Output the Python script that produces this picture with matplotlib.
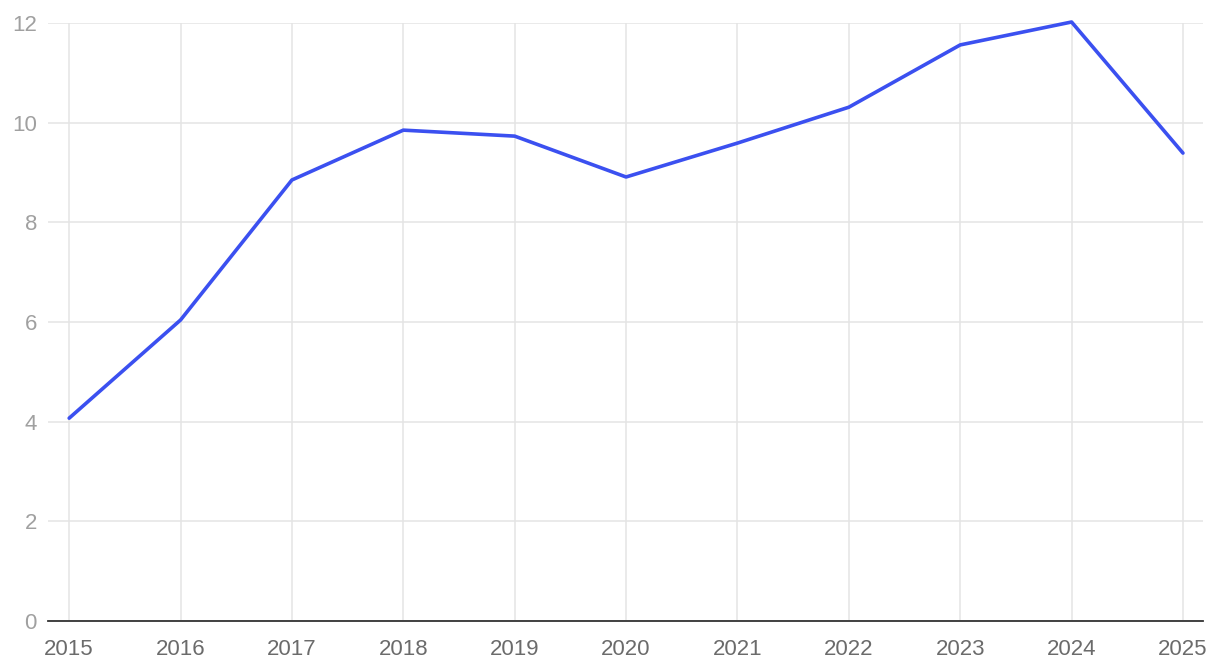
import matplotlib
matplotlib.use("Agg")
import matplotlib.pyplot as plt

plt.rcParams['font.family'] = ['Liberation Sans', 'DejaVu Sans']

anos = [2015, 2016, 2017, 2018, 2019, 2020, 2021, 2022, 2023, 2024, 2025]
valores = [4.07, 6.04, 8.85, 9.85, 9.73, 8.91, 9.59, 10.31, 11.56, 12.02, 9.39]
y_ticks = [0, 2, 4, 6, 8, 10, 12]

fig = plt.figure(figsize=(12.2, 6.68), dpi=100)
ax = fig.add_axes([48 / 1220, 47 / 668, 1155 / 1220, 598 / 668])

ax.plot(anos, valores, color='#3B50F0', linewidth=2.6, solid_joinstyle='round',
        solid_capstyle='round', zorder=3, clip_on=False)

ax.set_xlim(2014.81, 2025.18)
ax.set_ylim(0, 12)
ax.set_xticks(anos)
ax.set_yticks(y_ticks)
ax.set_xticklabels([str(a) for a in anos])

ax.grid(True, color='#e4e4e4', linewidth=1.1)
ax.set_axisbelow(True)

for lado in ['left', 'right', 'top']:
    ax.spines[lado].set_visible(False)
ax.spines['bottom'].set_color('#333333')
ax.spines['bottom'].set_linewidth(1.3)

ax.tick_params(axis='x', length=0, pad=13, labelsize=16, labelcolor='#6b6b6b')
ax.tick_params(axis='y', length=0, pad=8, labelsize=16, labelcolor='#a0a0a0')

fig.savefig('out.png', dpi=100)
